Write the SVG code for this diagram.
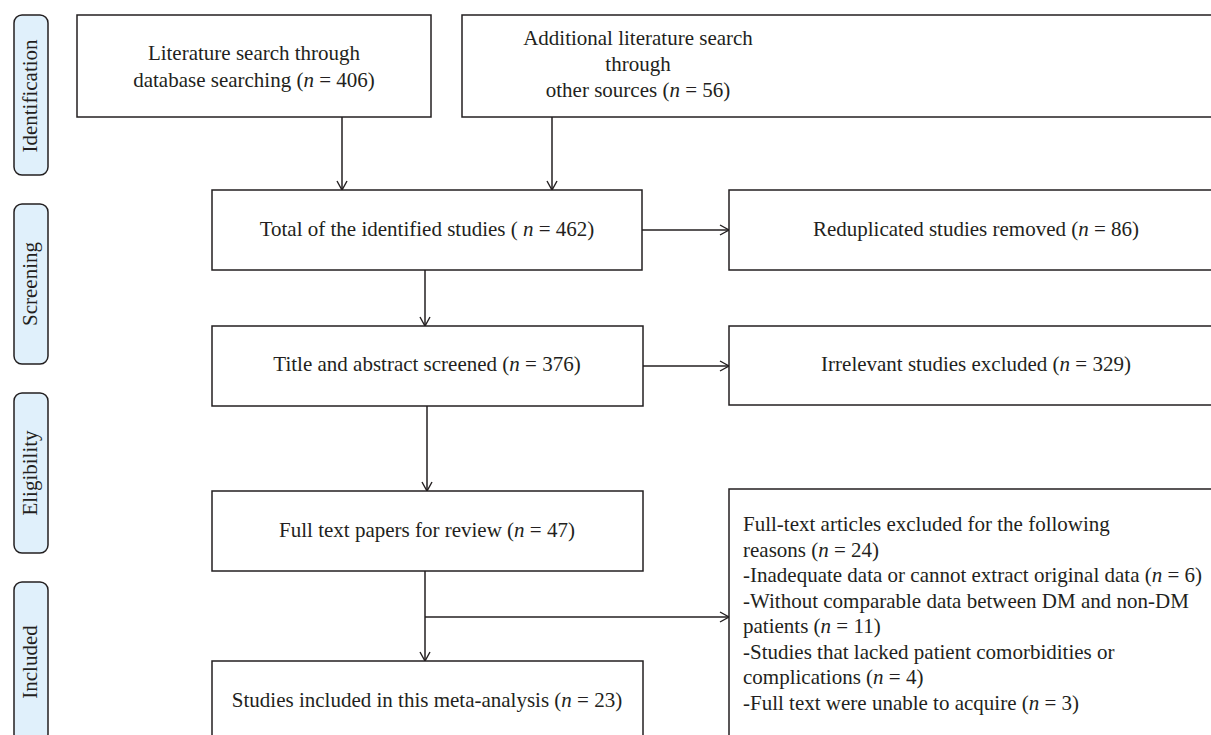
<svg xmlns="http://www.w3.org/2000/svg" width="1211" height="735" viewBox="0 0 1211 735">
<defs>
<style>
.box{fill:#fff;stroke:#231f20;stroke-width:1.5}
.bar{fill:#e0f0fb;stroke:#231f20;stroke-width:1.5}
.t{font-family:"Liberation Serif","Times New Roman",serif;font-size:21px;fill:#231f20}
.c{text-anchor:middle}
.i{font-style:italic}
.ln{fill:none;stroke:#231f20;stroke-width:1.5}
</style>
<marker id="ah" markerUnits="userSpaceOnUse" markerWidth="12" markerHeight="12" refX="10" refY="6" orient="auto" viewBox="0 0 12 12">
<path d="M1,1 L10,6 L1,11" fill="none" stroke="#231f20" stroke-width="1.4"/>
</marker>
</defs>
<rect width="1211" height="735" fill="#fff"/>

<g id="stage-identification">
<rect class="bar" x="14" y="15" width="34" height="160" rx="8"/>
<text class="t c" transform="translate(37,96) rotate(-90)">Identification</text>
</g>
<g id="stage-screening">
<rect class="bar" x="14" y="204" width="34" height="160" rx="8"/>
<text class="t c" transform="translate(37,284) rotate(-90)">Screening</text>
</g>
<g id="stage-eligibility">
<rect class="bar" x="14" y="393" width="34" height="160" rx="8"/>
<text class="t c" transform="translate(37,473) rotate(-90)">Eligibility</text>
</g>
<g id="stage-included">
<rect class="bar" x="14" y="582" width="34" height="160" rx="8"/>
<text class="t c" transform="translate(37,662) rotate(-90)">Included</text>
</g>

<g id="connectors">
<line class="ln" x1="342" y1="117" x2="342" y2="190" marker-end="url(#ah)"/>
<line class="ln" x1="552" y1="117" x2="552" y2="190" marker-end="url(#ah)"/>
<line class="ln" x1="642" y1="230" x2="729" y2="230" marker-end="url(#ah)"/>
<line class="ln" x1="425" y1="270" x2="425" y2="326" marker-end="url(#ah)"/>
<line class="ln" x1="643" y1="366" x2="729" y2="366" marker-end="url(#ah)"/>
<line class="ln" x1="427" y1="406" x2="427" y2="491" marker-end="url(#ah)"/>
<line class="ln" x1="425" y1="571" x2="425" y2="661" marker-end="url(#ah)"/>
<line class="ln" x1="425" y1="617" x2="729" y2="617" marker-end="url(#ah)"/>
</g>

<g id="node-database">
<rect class="box" x="77" y="15" width="354" height="102"/>
<text class="t c" x="254" y="60">Literature search through</text>
<text class="t c" x="254" y="87">database searching (<tspan class="i">n</tspan> = 406)</text>
</g>
<g id="node-other">
<rect class="box" x="462" y="15" width="760" height="102"/>
<text class="t c" x="638" y="45">Additional literature search</text>
<text class="t c" x="638" y="71">through</text>
<text class="t c" x="638" y="97">other sources (<tspan class="i">n</tspan> = 56)</text>
</g>
<g id="node-total">
<rect class="box" x="212" y="190" width="430" height="80"/>
<text class="t c" x="427" y="236">Total of the identified studies ( <tspan class="i">n</tspan> = 462)</text>
</g>
<g id="node-reduplicated">
<rect class="box" x="729" y="190" width="494" height="80"/>
<text class="t c" x="976" y="236">Reduplicated studies removed (<tspan class="i">n</tspan> = 86)</text>
</g>
<g id="node-title">
<rect class="box" x="212" y="326" width="431" height="80"/>
<text class="t c" x="427" y="371">Title and abstract screened (<tspan class="i">n</tspan> = 376)</text>
</g>
<g id="node-irrelevant">
<rect class="box" x="729" y="326" width="494" height="79"/>
<text class="t c" x="976" y="371">Irrelevant studies excluded (<tspan class="i">n</tspan> = 329)</text>
</g>
<g id="node-fulltext">
<rect class="box" x="212" y="491" width="431" height="80"/>
<text class="t c" x="427" y="537">Full text papers for review (<tspan class="i">n</tspan> = 47)</text>
</g>
<g id="node-excluded">
<rect class="box" x="729" y="489" width="494" height="260"/>
<text class="t" x="743" y="531">Full-text articles excluded for the following</text>
<text class="t" x="743" y="556.5">reasons (<tspan class="i">n</tspan> = 24)</text>
<text class="t" x="743" y="582">-Inadequate data or cannot extract original data (<tspan class="i">n</tspan> = 6)</text>
<text class="t" x="743" y="607.5">-Without comparable data between DM and non-DM</text>
<text class="t" x="743" y="633">patients (<tspan class="i">n</tspan> = 11)</text>
<text class="t" x="743" y="658.5">-Studies that lacked patient comorbidities or</text>
<text class="t" x="743" y="684">complications (<tspan class="i">n</tspan> = 4)</text>
<text class="t" x="743" y="709.5">-Full text were unable to acquire (<tspan class="i">n</tspan> = 3)</text>
</g>
<g id="node-included">
<rect class="box" x="212" y="661" width="431" height="80"/>
<text class="t c" x="427" y="707">Studies included in this meta-analysis (<tspan class="i">n</tspan> = 23)</text>
</g>
</svg>
